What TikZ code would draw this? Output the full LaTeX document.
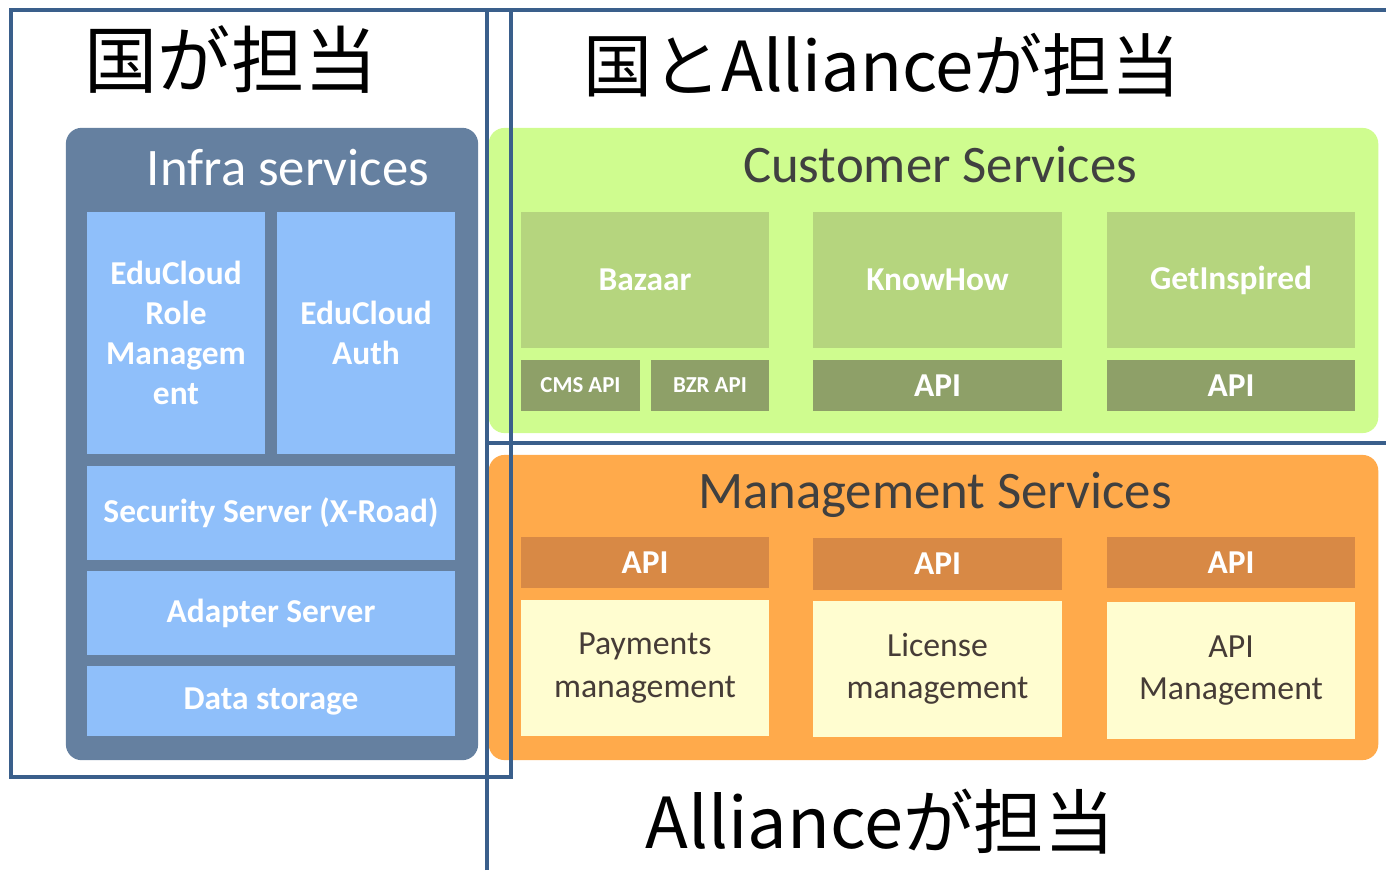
\documentclass[tikz,border=0pt]{standalone}
\usepackage{fontspec}
\setmainfont{Carlito}
\newfontfamily\jpfont{Noto Sans CJK JP}

\definecolor{frameblue}{RGB}{58,95,139}
\definecolor{infrabg}{RGB}{101,128,160}
\definecolor{infrabox}{RGB}{143,191,250}
\definecolor{custbg}{RGB}{207,252,143}
\definecolor{custbox}{RGB}{181,213,126}
\definecolor{custapi}{RGB}{142,160,104}
\definecolor{mgmtbg}{RGB}{255,170,75}
\definecolor{mgmtapi}{RGB}{216,137,69}
\definecolor{mgmtbox}{RGB}{255,253,208}
\definecolor{titlegray}{RGB}{64,64,64}
\definecolor{boxtext}{RGB}{70,60,55}

\begin{document}
\begin{tikzpicture}[x=0.01cm, y=-0.01cm,
    area/.style={inner sep=0pt, rounded corners=4.5pt, minimum width=8.89cm, minimum height=3.05cm},
    box/.style={inner sep=0pt, align=center, text=white,
      font=\fontsize{9.5}{11.4}\selectfont\bfseries},
    wide/.style={minimum width=2.48cm},
    tall/.style={minimum height=1.36cm},
    apibar/.style={box, wide, minimum height=0.51cm},
    smallbox/.style={box, minimum width=1.18cm, minimum height=0.51cm,
      font=\fontsize{6.5}{8}\selectfont\bfseries},
    darkbox/.style={inner sep=0pt, align=center, text=boxtext, wide, tall,
      font=\fontsize{9.6}{12}\selectfont},
    areatitle/.style={font=\fontsize{15}{18}\selectfont},
    jptitle/.style={font=\jpfont\fontsize{20}{24}\selectfont},
    frame/.style={draw=frameblue, line width=0.9pt}]
    \useasboundingbox (0,0) rectangle (1386,870);

    \node[area, fill=infrabg, minimum width=4.12cm, minimum height=6.32cm] (infra) at (272,444) {};
    \node[areatitle, text=white] (infratitle) at (288,168) {Infra services};
    \node[box, fill=infrabox, minimum width=1.78cm, minimum height=2.42cm] (role) at (176,333) {EduCloud\\Role\\Managem\\ent};
    \node[box, fill=infrabox, minimum width=1.78cm, minimum height=2.42cm] (auth) at (366,333) {EduCloud\\Auth};
    \node[box, fill=infrabox, minimum width=3.68cm, minimum height=0.94cm] (xroad) at (271,513) {Security Server (X-Road)};
    \node[box, fill=infrabox, minimum width=3.68cm, minimum height=0.84cm] (adapter) at (271,613) {Adapter Server};
    \node[box, fill=infrabox, minimum width=3.68cm, minimum height=0.70cm] (storage) at (271,701) {Data storage};

    \node[area, fill=custbg] (cust) at (933.5,280.5) {};
    \node[areatitle, text=titlegray] (custtitle) at (940,165) {Customer Services};
    \node[box, fill=custbox, wide, tall] (bazaar) at (645,280) {Bazaar};
    \node[box, fill=custbox, wide, tall] (knowhow) at (937.5,280) {KnowHow};
    \node[box, fill=custbox, wide, tall] (inspired) at (1231,280) {GetInspired};
    \node[smallbox, fill=custapi] (cmsapi) at (580.5,385.5) {CMS API};
    \node[smallbox, fill=custapi] (bzrapi) at (710,385.5) {BZR API};
    \node[apibar, fill=custapi] (knowapi) at (937.5,385.5) {API};
    \node[apibar, fill=custapi] (inspapi) at (1231,385.5) {API};

    \node[area, fill=mgmtbg] (mgmt) at (933.5,607.5) {};
    \node[areatitle, text=titlegray] (mgmttitle) at (935,495) {Management Services};
    \node[apibar, fill=mgmtapi] (payapi) at (645,562.5) {API};
    \node[apibar, fill=mgmtapi] (licapi) at (937.5,564) {API};
    \node[apibar, fill=mgmtapi] (apiapi) at (1231,562.5) {API};
    \node[darkbox, fill=mgmtbox] (payments) at (645,668) {Payments\\management};
    \node[darkbox, fill=mgmtbox] (license) at (937.5,669) {License\\management};
    \node[darkbox, fill=mgmtbox] (apimgmt) at (1231,670.5) {API\\Management};

    \draw[frame] (11,10) rectangle (511,777);
    \draw[frame] (487,870) -- (487,10) -- (1386,10);
    \draw[frame] (487,443) -- (1386,443);

    \node[jptitle, font=\jpfont\fontsize{20.8}{24}\selectfont] (state) at (231,60) {国が担当};
    \node[jptitle, font=\jpfont\fontsize{19.6}{24}\selectfont] (both) at (882,65) {国とAllianceが担当};
    \node[jptitle] (alliance) at (880,822) {Allianceが担当};
  \end{tikzpicture}
\end{document}
